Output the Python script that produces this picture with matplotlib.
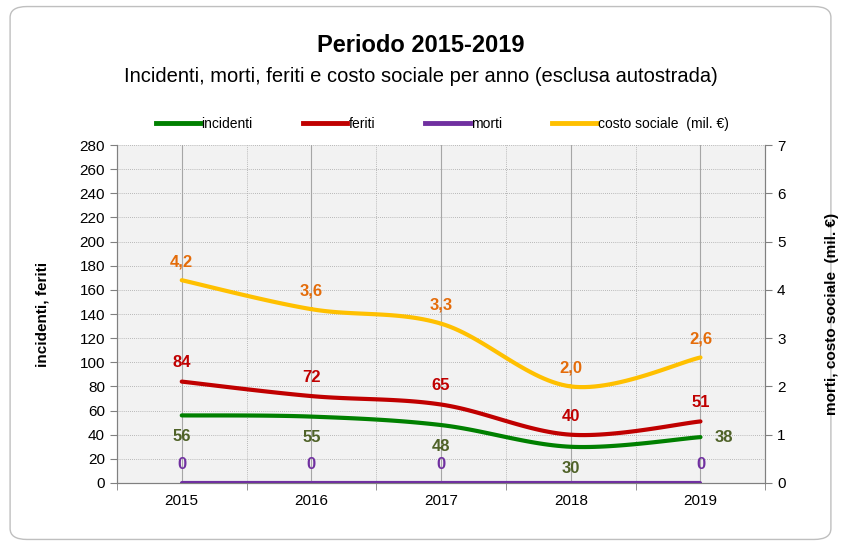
import numpy as np
import matplotlib.pyplot as plt
from matplotlib.patches import FancyBboxPatch
from matplotlib.lines import Line2D

plt.rcParams['font.family'] = ['Liberation Sans Narrow', 'Liberation Sans', 'DejaVu Sans']

# Data
anni = ['2015', '2016', '2017', '2018', '2019']
incidenti = [56, 55, 48, 30, 38]
feriti = [84, 72, 65, 40, 51]
morti = [0, 0, 0, 0, 0]
costo_sociale = [4.2, 3.6, 3.3, 2.0, 2.6]

verde = '#008000'
rosso = '#C00000'
viola = '#7030A0'
giallo = '#FFC000'


def smooth(xs, ys, n=30):
    # Catmull-Rom curve through the points, like Excel's smoothed line
    p = np.column_stack([xs, ys]).astype(float)
    p = np.vstack([p[0], p, p[-1]])
    out = []
    t = np.linspace(0, 1, n)
    for i in range(1, len(p) - 2):
        p0, p1, p2, p3 = p[i - 1], p[i], p[i + 1], p[i + 2]
        seg = 0.5 * ((2 * p1)[None, :] + np.outer(t, -p0 + p2)
                     + np.outer(t ** 2, 2 * p0 - 5 * p1 + 4 * p2 - p3)
                     + np.outer(t ** 3, -p0 + 3 * p1 - 3 * p2 + p3))
        out.append(seg)
    out = np.vstack(out)
    return out[:, 0], out[:, 1]


fig = plt.figure(figsize=(8.41, 5.46), dpi=100)

# rounded frame around the chart
frame = FancyBboxPatch((0.012, 0.012), 0.976, 0.976, boxstyle='round,pad=0,rounding_size=0.02',
                       transform=fig.transFigure, fc='white', ec='#BFBFBF', lw=1.0, zorder=-10)
fig.patches.append(frame)

ax = fig.add_axes([0.139, 0.1154, 0.771, 0.619])
ax2 = ax.twinx()
ax.set_zorder(ax2.get_zorder() - 1)
ax.set_facecolor('#F2F2F2')
ax2.patch.set_visible(False)

x = np.arange(len(anni))
ax.set_xlim(-0.5, len(anni) - 0.5)
ax.set_ylim(0, 280)
ax.set_yticks(np.arange(0, 281, 20))
ax2.set_ylim(0, 7)
ax2.set_yticks(np.arange(0, 8, 1))

# grid
for yv in np.arange(20, 281, 20):
    ax.axhline(yv, color='#A6A6A6', lw=0.6, ls=(0, (1, 1.5)), zorder=0)
for xv in x:
    ax.axvline(xv, color='#A6A6A6', lw=0.8, zorder=0)
for xv in x[:-1] + 0.5:
    ax.axvline(xv, color='#A6A6A6', lw=0.6, ls=(0, (1, 1.5)), zorder=0)

# lines
sx, sy = smooth(x, incidenti)
ax.plot(sx, sy, color=verde, lw=3, solid_capstyle='round', zorder=3)
sx, sy = smooth(x, feriti)
ax.plot(sx, sy, color=rosso, lw=3, solid_capstyle='round', zorder=3)
sx, sy = smooth(x, morti)
ax2.plot(sx, sy, color=viola, lw=3, solid_capstyle='round', zorder=3)
sx, sy = smooth(x, costo_sociale)
ax2.plot(sx, sy, color=giallo, lw=3, solid_capstyle='round', zorder=3)

# data labels
fs = 12
for i, v in enumerate(incidenti):
    if i == len(anni) - 1:
        ax.annotate(str(v), (x[i], v), xytext=(10, 0), textcoords='offset points',
                    ha='left', va='center', color='#4F6228', fontsize=fs, fontweight='bold')
    else:
        ax.annotate(str(v), (x[i], v), xytext=(0, -10), textcoords='offset points',
                    ha='center', va='top', color='#4F6228', fontsize=fs, fontweight='bold')
for i, v in enumerate(feriti):
    ax.annotate(str(v), (x[i], v), xytext=(0, 8), textcoords='offset points',
                ha='center', va='bottom', color=rosso, fontsize=fs, fontweight='bold')
for i, v in enumerate(morti):
    if i == 3:
        continue  # hidden behind the "30" label in the original
    ax2.annotate(str(v), (x[i], v), xytext=(0, 8), textcoords='offset points',
                 ha='center', va='bottom', color=viola, fontsize=fs, fontweight='bold')
for i, v in enumerate(costo_sociale):
    ax2.annotate(f'{v:.1f}'.replace('.', ','), (x[i], v), xytext=(0, 8), textcoords='offset points',
                 ha='center', va='bottom', color='#E46C0A', fontsize=fs, fontweight='bold')

# axes styling
ax.set_xticks(x)
ax.set_xticklabels(anni, fontsize=11)
ax.set_xticks(np.arange(-0.5, len(anni), 1), minor=True)
ax.tick_params(axis='x', which='major', length=0, pad=8)
ax.tick_params(axis='x', which='minor', length=5, color='#808080', direction='out')
ax.tick_params(axis='y', labelsize=11, length=5, color='#808080', direction='out')
ax2.tick_params(axis='y', labelsize=11, length=5, color='#808080', direction='out')
for a in (ax, ax2):
    for s in a.spines.values():
        s.set_color('#808080')
    a.spines['top'].set_visible(False)

ax.set_ylabel('incidenti, feriti', fontsize=11, fontweight='bold', labelpad=22)
ax2.set_ylabel('morti, costo sociale  (mil. €)', fontsize=11, fontweight='bold', labelpad=28)

# titles
fig.text(0.5, 0.917, 'Periodo 2015-2019', ha='center', va='center', fontsize=17, fontweight='bold')
fig.text(0.5, 0.86, 'Incidenti, morti, feriti e costo sociale per anno (esclusa autostrada)',
         ha='center', va='center', fontsize=14.5)

# legend
handles = [Line2D([], [], color=verde, lw=3.5),
           Line2D([], [], color=rosso, lw=3.5),
           Line2D([], [], color=viola, lw=3.5),
           Line2D([], [], color=giallo, lw=3.5)]
labels = ['incidenti', 'feriti', 'morti', 'costo sociale  (mil. €)']
fig.legend(handles, labels, loc='center', bbox_to_anchor=(0.526, 0.773), ncol=4, frameon=False,
           fontsize=10, handlelength=3.2, handletextpad=0.1, columnspacing=3.6)

fig.savefig('out.png', dpi=100)
